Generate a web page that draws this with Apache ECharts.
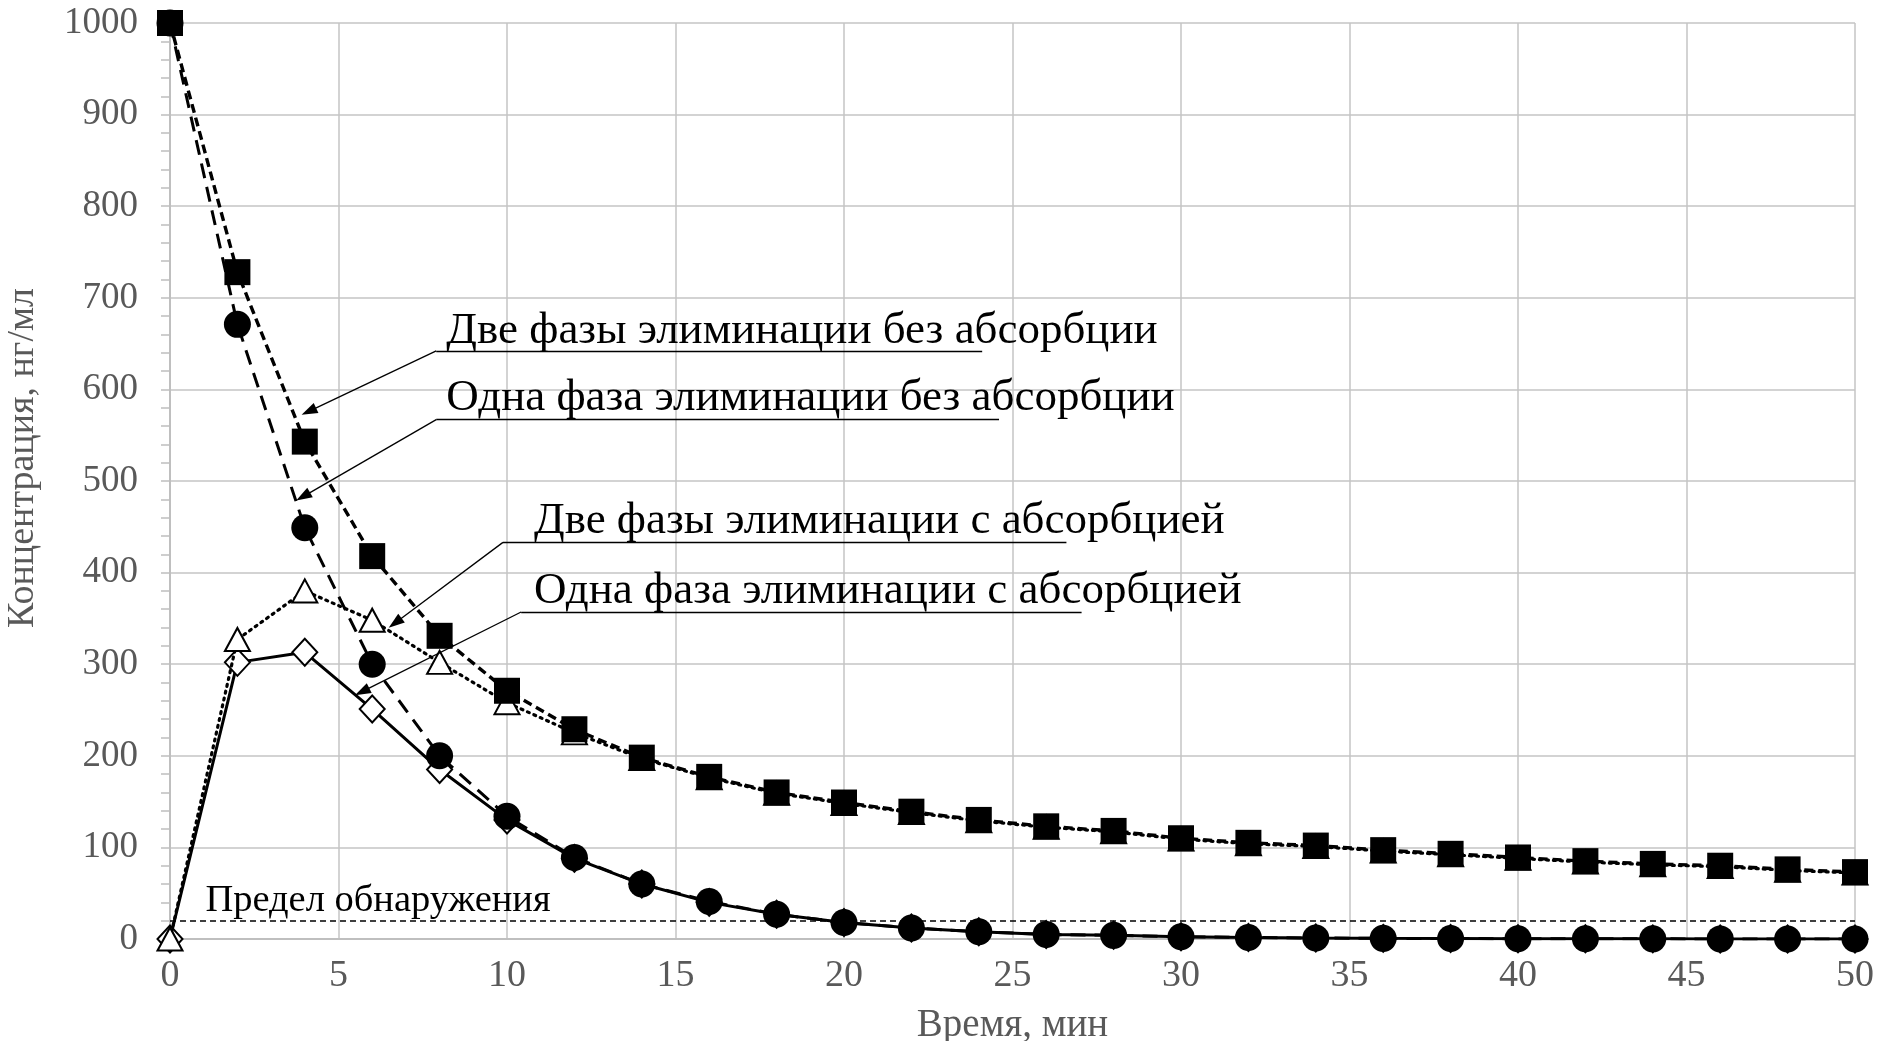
<!DOCTYPE html>
<html>
<head>
<meta charset="utf-8">
<script src="https://cdn.jsdelivr.net/npm/echarts@6/dist/echarts.min.js"></script>
<style>
html,body{margin:0;padding:0;background:#fff;}
#chart{width:1878px;height:1041px;}
</style>
</head>
<body>
<div id="chart"></div>
<script>
// ---- data ----
var time = [0,2,4,6,8,10,12,14,16,18,20,22,24,26,28,30,32,34,36,38,40,42,44,46,48,50];
var twoPhaseNoAbs = [1000,728,543,418,331,271,229,198,177,160,149,139,130,123,118,110,105,102,97,93,89,85,82,80,76,73];
var onePhaseNoAbs = [1000,671,449,300,200,134,89,60,41,27,18,12,8,5,4,2.5,1.7,1.1,0.7,0.5,0.3,0.2,0.15,0.1,0.07,0.05];
var twoPhaseAbs = [0,327,380,348,302,258,225,197,176,159,148,138,129,122,117,109,104,101,96,92,88,84,81,79,75,72];
var onePhaseAbs = [0,302,313,251,185,130,88,60,40,27,18,12,8,5,4,2.5,1.7,1.1,0.7,0.5,0.3,0.2,0.15,0.1,0.07,0.05];
var xTicks = [0,5,10,15,20,25,30,35,40,45,50];
var yTicks = [0,100,200,300,400,500,600,700,800,900,1000];
var detectionLimit = 20;
var labels = [
  'Две фазы элиминации без абсорбции',
  'Одна фаза элиминации без абсорбции',
  'Две фазы элиминации с абсорбцией',
  'Одна фаза элиминации с абсорбцией'
];
var detectionLabel = 'Предел обнаружения';
var xName = 'Время, мин';
var yName = 'Концентрация, нг/мл';
// annotation anchors in data units: [text x, text y, underline x1, underline x2, underline y, arrow tip x, arrow tip y]
var notes = [
  [8.2, 664, 7.9, 24.1, 642, 4.12, 576],
  [8.2, 590, 7.9, 24.6, 567, 3.95, 483],
  [10.8, 456, 9.88, 26.6, 433, 6.68, 345],
  [10.8, 380, 10.42, 27.05, 357, 5.7, 270]
];

function pairs(ys){ return time.map(function(t,i){ return [t, ys[i]]; }); }

var font = 'Liberation Serif';
var chart = echarts.init(document.getElementById('chart'));

var markLineData = [];
var markPointData = [];
notes.forEach(function(n, i){
  markLineData.push([{coord:[n[2], n[4]], symbol:'none'}, {coord:[n[3], n[4]], symbol:'none'}]);
  markLineData.push([{coord:[n[2], n[4]], symbol:'none'}, {coord:[n[5], n[6]], symbol:'triangle', symbolSize:[11,16]}]);
  markPointData.push({name: labels[i], coord:[n[0], n[1]]});
});
markLineData.push([{coord:[0, detectionLimit], symbol:'none', lineStyle:{type:[6,4], width:1.5}}, {coord:[50, detectionLimit], symbol:'none'}]);
markPointData.push({name: detectionLabel, coord:[1.05, 42], label:{fontSize:38.5}});

var option = {
  animation: false,
  backgroundColor: '#fff',
  grid: {left:170, right:23, top:23, bottom:102, containLabel:false, outerBoundsMode:'none'},
  xAxis: {
    type:'value', min:0, max:50, interval:5,
    name: xName, nameLocation:'middle', nameGap:67,
    nameTextStyle:{fontFamily:font, fontSize:39, color:'#595959'},
    axisLine:{show:true, lineStyle:{color:'#bfbfbf', width:2}},
    axisTick:{show:false},
    axisLabel:{fontFamily:font, fontSize:38, color:'#595959', margin:18,
      formatter:function(v){ return xTicks.indexOf(v) >= 0 ? String(v) : ''; }},
    splitLine:{show:true, lineStyle:{color:'#c4c4c4', width:1.5}}
  },
  yAxis: {
    type:'value', min:0, max:1000, interval:100,
    name: yName, nameLocation:'middle', nameGap:128,
    nameTextStyle:{fontFamily:font, fontSize:38, color:'#595959', padding:[0,0,0,46]},
    axisLine:{show:true, lineStyle:{color:'#bfbfbf', width:2}},
    axisTick:{show:true, inside:false, length:9, lineStyle:{color:'#bfbfbf', width:1.5}},
    minorTick:{show:true, splitNumber:5, length:9, lineStyle:{color:'#bfbfbf', width:1.5}},
    axisLabel:{fontFamily:font, fontSize:37, color:'#595959', margin:32,
      formatter:function(v){ return yTicks.indexOf(v) >= 0 ? String(v) : ''; }},
    splitLine:{show:true, lineStyle:{color:'#c4c4c4', width:1.5}}
  },
  series: [
    {
      name: labels[3], type:'line', data: pairs(onePhaseAbs), z:2,
      symbol:'diamond', symbolSize:[25,27],
      itemStyle:{color:'#fff', borderColor:'#000', borderWidth:2},
      lineStyle:{color:'#000', width:3, type:'solid'}
    },
    {
      name: labels[2], type:'line', data: pairs(twoPhaseAbs), z:3,
      symbol:'triangle', symbolSize:[25,23],
      itemStyle:{color:'#fff', borderColor:'#000', borderWidth:2},
      lineStyle:{color:'#000', width:3.2, type:[2,5], cap:'round'}
    },
    {
      name: labels[1], type:'line', data: pairs(onePhaseNoAbs), z:4,
      symbol:'circle', symbolSize:27,
      itemStyle:{color:'#000', borderColor:'#000', borderWidth:0},
      lineStyle:{color:'#000', width:3, type:[15,9]}
    },
    {
      name: labels[0], type:'line', data: pairs(twoPhaseNoAbs), z:5,
      symbol:'rect', symbolSize:26,
      itemStyle:{color:'#000', borderColor:'#000', borderWidth:0},
      lineStyle:{color:'#000', width:3.4, type:[9,5]}
    },
    {
      name:'annotations', type:'line', data:[], z:6,
      markLine:{
        silent:true, animation:false,
        symbol:['none','none'],
        label:{show:false},
        lineStyle:{color:'#000', width:1.3, type:'solid'},
        emphasis:{disabled:true},
        data: markLineData
      },
      markPoint:{
        silent:true, animation:false,
        symbol:'circle', symbolSize:0,
        itemStyle:{color:'transparent'},
        label:{show:true, position:'right', distance:0, formatter:'{b}',
          fontFamily:font, fontSize:45, color:'#000'},
        data: markPointData
      }
    }
  ]
};
chart.setOption(option);
</script>
</body>
</html>
